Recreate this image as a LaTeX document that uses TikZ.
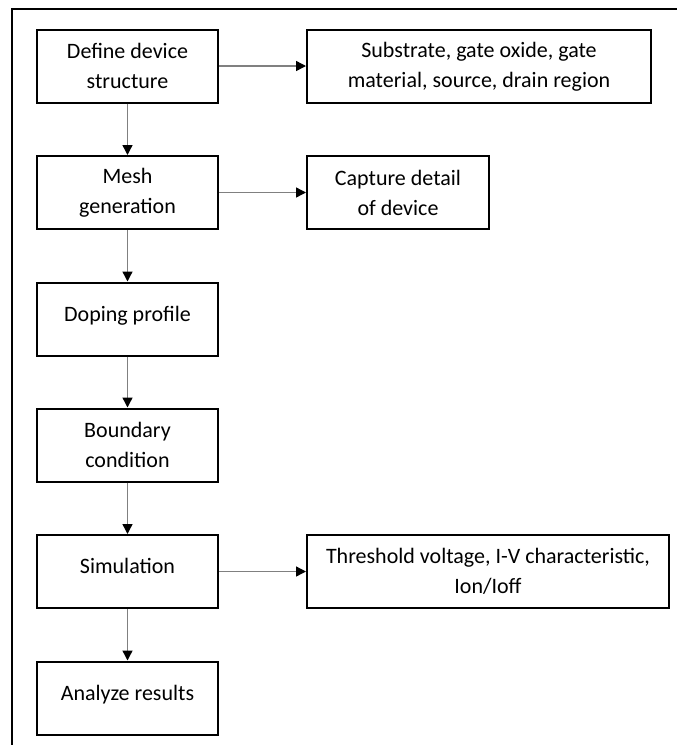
\documentclass[tikz,border=0pt]{standalone}
\usepackage{fontspec}
\setmainfont{Carlito}
\usetikzlibrary{arrows.meta}

\begin{document}
\begin{tikzpicture}[x=0.5pt,y=0.5pt]
\tikzstyle{every node}+=[inner sep=0pt]
\tikzstyle{box}=[draw=black, line width=1pt, align=center, minimum height=36.5pt, font=\fontsize{11}{15}\selectfont]
\tikzstyle{flow}=[draw=gray, line width=0.7pt, -{Triangle[length=5pt,width=5pt,color=black]}]
\useasboundingbox (0,0) rectangle (677,-745);
% frame
\draw [black, line width=0.8pt] (12,-745) -- (12,-9) -- (677,-9);
% main steps
\node [box, minimum width=90.5pt] (define) at (127.5,-66) {Define device\\structure};
\node [box, minimum width=90.5pt] (mesh) at (127.5,-192.5) {Mesh\\generation};
\node [box, minimum width=90.5pt] (doping) at (127.5,-319) {\raisebox{5.5pt}{Doping profile}};
\node [box, minimum width=90.5pt] (boundary) at (127.5,-445) {Boundary\\condition};
\node [box, minimum width=90.5pt] (simul) at (127.5,-571.5) {\raisebox{5.5pt}{Simulation}};
\node [box, minimum width=90.5pt] (analyze) at (127.5,-698) {\raisebox{5.5pt}{Analyze results}};
% side notes
\node [box, minimum width=172pt] (layers) at (479,-66.5) {Substrate, gate oxide, gate\\material, source, drain region};
\node [box, minimum width=91pt] (detail) at (398,-192.5) {Capture detail\\of device};
\node [box, minimum width=181pt] (output) at (488,-571.5) {Threshold voltage, I-V characteristic,\\Ion/Ioff};
% arrows
\draw [flow] (define) -- (mesh);
\draw [flow] (mesh) -- (doping);
\draw [flow] (doping) -- (boundary);
\draw [flow] (boundary) -- (simul);
\draw [flow] (simul) -- (analyze);
\draw [flow] (define.east) -- (define.east -| layers.west);
\draw [flow] (mesh.east) -- (mesh.east -| detail.west);
\draw [flow] (simul.east) -- (simul.east -| output.west);
\end{tikzpicture}
\end{document}
